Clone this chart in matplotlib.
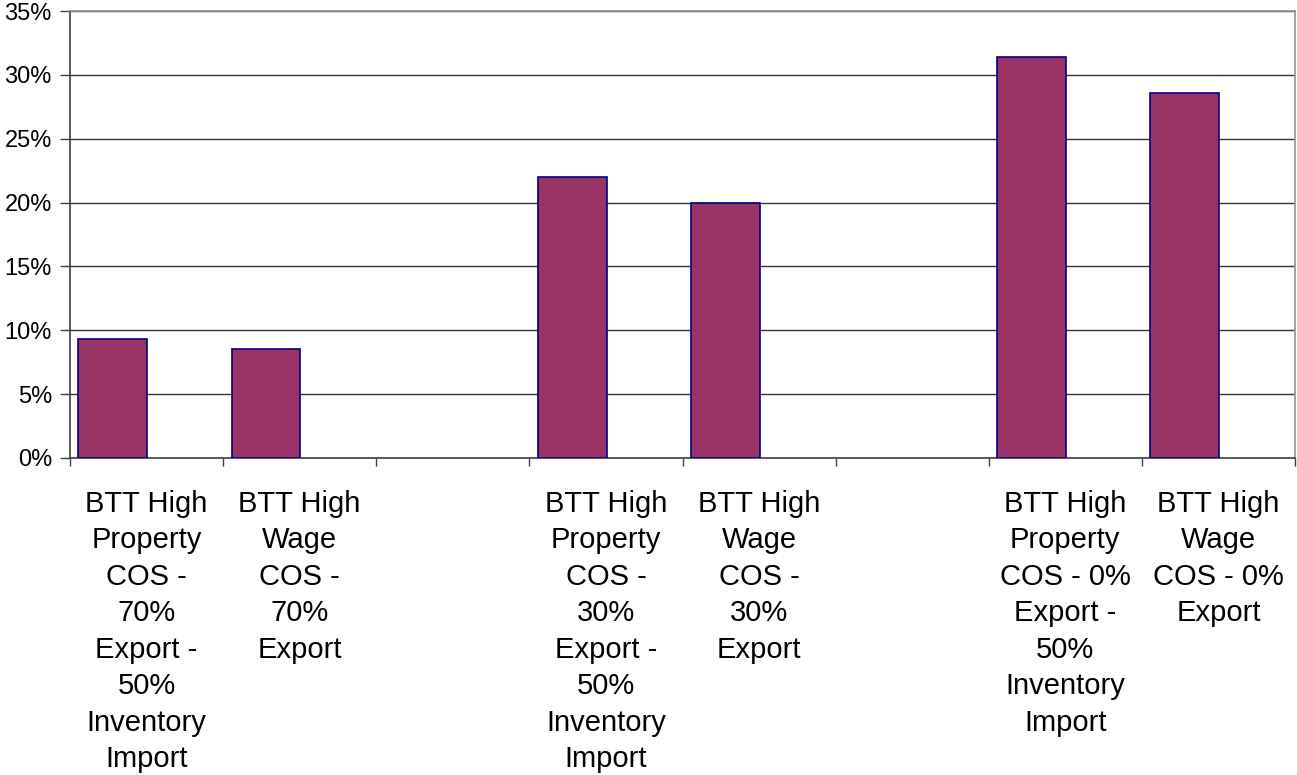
import matplotlib
matplotlib.use("Agg")
import matplotlib.pyplot as plt
import numpy as np

categories = [
    "BTT High\nProperty\nCOS -\n70%\nExport -\n50%\nInventory\nImport",
    "BTT High\nWage\nCOS -\n70%\nExport",
    "",
    "BTT High\nProperty\nCOS -\n30%\nExport -\n50%\nInventory\nImport",
    "BTT High\nWage\nCOS -\n30%\nExport",
    "",
    "BTT High\nProperty\nCOS - 0%\nExport -\n50%\nInventory\nImport",
    "BTT High\nWage\nCOS - 0%\nExport",
]
values = [9.3, 8.5, np.nan, 22.0, 20.0, np.nan, 31.4, 28.6]
y_ticks = [0, 5, 10, 15, 20, 25, 30, 35]
y_tick_labels = ["0%", "5%", "10%", "15%", "20%", "25%", "30%", "35%"]

plt.rcParams['font.family'] = ['Liberation Sans', 'DejaVu Sans']

fig = plt.figure(figsize=(12.97, 7.75), dpi=100)
ax = fig.add_axes([70 / 1297, 1 - 458 / 775, 1225 / 1297, 447 / 775])

idx = np.arange(len(categories))
ax.bar(idx + 0.055, values, width=0.45, align='edge', color='#993366',
       edgecolor='#000080', linewidth=1.2, zorder=3)

ax.set_xlim(0, len(categories))
ax.set_ylim(0, 35)

ax.tick_params(axis='x', which='minor', length=0, pad=23)
ax.tick_params(axis='x', which='major', length=6, width=1, color='#404040', direction='out')
ax.tick_params(axis='y', length=7, width=1, color='#404040', direction='out', pad=6,
               labelsize=17)

ax.set_yticks(y_ticks)
ax.set_yticklabels(y_tick_labels)
ax.yaxis.grid(True, color='#333333', linewidth=1.0, zorder=1)
ax.set_axisbelow(True)

ax.set_xticks(np.arange(len(categories) + 1))
ax.set_xticklabels([])
ax.set_xticks(idx + 0.5, minor=True)
ax.set_xticklabels(categories, minor=True, fontsize=21, linespacing=1.385,
                   va='top', ha='center')

for s in ['left', 'bottom']:
    ax.spines[s].set_color('#404040')
    ax.spines[s].set_linewidth(1.2)
for s in ['top', 'right']:
    ax.spines[s].set_color('#909090')
    ax.spines[s].set_linewidth(1.2)

fig.savefig("out.png", dpi=100)
